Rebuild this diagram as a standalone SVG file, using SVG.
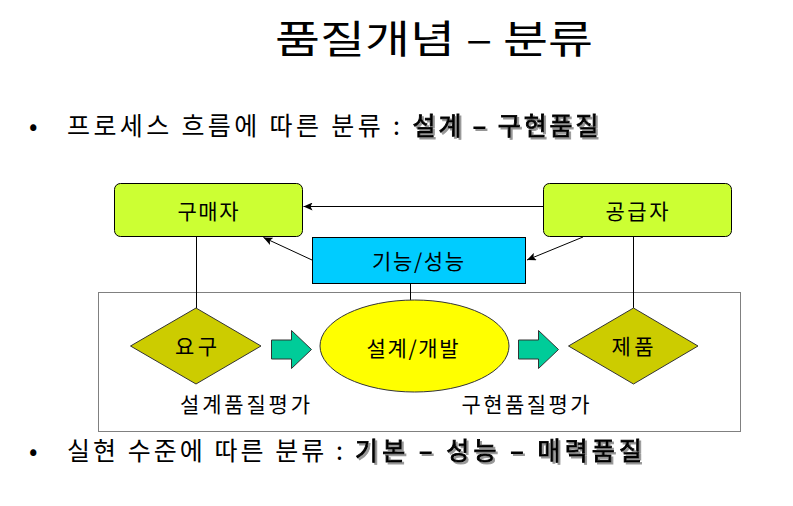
<svg xmlns="http://www.w3.org/2000/svg" width="793" height="506" viewBox="0 0 793 506">
<style>
text{font-family:"Noto Sans CJK KR","Noto Sans",sans-serif;fill:#000}
.t{font-size:39px}
.b{font-size:25px}
.bb{font-size:25px;font-weight:normal;stroke:#000;stroke-width:0.9px;filter:url(#shadow)}
.n{font-size:21px}
.party{fill:#CCFF33;stroke:#000;stroke-width:1}
.func{fill:#00CCFF;stroke:#000;stroke-width:1}
.dia{fill:#CCCC00;stroke:#333;stroke-width:1}
.ell{fill:#FFFF00;stroke:#333;stroke-width:1}
.blk{fill:#00CC99;stroke:#333;stroke-width:1}
.ln{stroke:#000;stroke-width:1;fill:none}
.frame{fill:none;stroke:#808080;stroke-width:1}
</style>
<defs>
<marker id="ah" markerWidth="10" markerHeight="8" refX="9" refY="4" orient="auto" markerUnits="userSpaceOnUse">
<path d="M0,0 L9,4 L0,8 L2,4 Z" fill="#000"/>
</marker>
<filter id="shadow" x="-5%" y="-20%" width="110%" height="150%">
<feDropShadow dx="2" dy="2" stdDeviation="0.7" flood-color="#8a8a8a" flood-opacity="0.9"/>
</filter>
</defs>
<rect width="793" height="506" fill="#fff"/>
<g id="title">
<text class="t" x="275" y="53" textLength="318" lengthAdjust="spacingAndGlyphs">품질개념 – 분류</text>
</g>
<g id="bullet1">
<text class="b" x="29" y="135">•</text>
<text class="b" x="67" y="135" textLength="333" lengthAdjust="spacing">프로세스 흐름에 따른 분류 :</text>
<text class="bb" x="412.5" y="135" textLength="186" lengthAdjust="spacing">설계 – 구현품질</text>
</g>
<g id="bullet2">
<text class="b" x="29" y="460">•</text>
<text class="b" x="67" y="460" textLength="276" lengthAdjust="spacing">실현 수준에 따른 분류 :</text>
<text class="bb" x="355" y="460" textLength="287" lengthAdjust="spacing">기본 – 성능 – 매력품질</text>
</g>
<rect id="frame" class="frame" x="98.5" y="292.5" width="642" height="139"/>
<g id="connectors">
<line class="ln" x1="543" y1="206.5" x2="303.5" y2="206.5" marker-end="url(#ah)"/>
<line class="ln" x1="312" y1="260" x2="263.5" y2="237.5" marker-end="url(#ah)"/>
<line class="ln" x1="583" y1="237" x2="527" y2="260" marker-end="url(#ah)"/>
<line class="ln" x1="196.5" y1="237" x2="196.5" y2="308"/>
<line class="ln" x1="633.5" y1="237" x2="633.5" y2="308"/>
<line class="ln" x1="410.5" y1="283.5" x2="410.5" y2="300.5"/>
<path class="blk" d="M271.5,340 H291.5 V330.5 L311.5,349.5 L291.5,368.5 V359 H271.5 Z"/>
<path class="blk" d="M518.5,340 H538.5 V330.5 L558.5,349.5 L538.5,368.5 V359 H518.5 Z"/>
</g>
<g id="buyer">
<rect class="party" x="114.5" y="183.5" width="188" height="53" rx="6"/>
<text class="n" x="208" y="218.5" text-anchor="middle" textLength="61" lengthAdjust="spacing">구매자</text>
</g>
<g id="supplier">
<rect class="party" x="543.5" y="183.5" width="188" height="53" rx="6"/>
<text class="n" x="637" y="218.5" text-anchor="middle" textLength="63" lengthAdjust="spacing">공급자</text>
</g>
<g id="function">
<rect class="func" x="312.5" y="237.5" width="213" height="46"/>
<text class="n" x="418" y="269" text-anchor="middle" textLength="92" lengthAdjust="spacing">기능/성능</text>
</g>
<g id="requirement">
<polygon class="dia" points="196,308 261,346 196,384 130.5,346"/>
<text class="n" x="196" y="354" text-anchor="middle" textLength="42" lengthAdjust="spacing">요구</text>
</g>
<g id="design">
<ellipse class="ell" cx="414.5" cy="346" rx="94.5" ry="46"/>
<text class="n" x="412.5" y="355.5" text-anchor="middle" textLength="92" lengthAdjust="spacing">설계/개발</text>
</g>
<g id="product">
<polygon class="dia" points="633.5,308 698,346 633.5,384 568.5,346"/>
<text class="n" x="632.5" y="354" text-anchor="middle" textLength="42" lengthAdjust="spacing">제품</text>
</g>
<g id="labels">
<text class="n" x="180" y="411.5" textLength="130" lengthAdjust="spacing">설계품질평가</text>
<text class="n" x="461.5" y="411.5" textLength="128" lengthAdjust="spacing">구현품질평가</text>
</g>
</svg>
